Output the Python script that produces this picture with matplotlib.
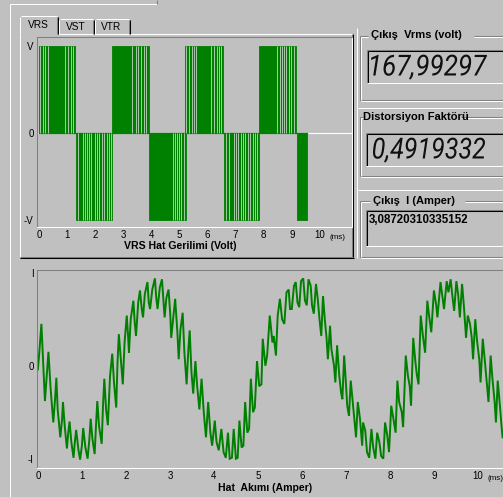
import matplotlib
matplotlib.use("Agg")
import matplotlib.pyplot as plt
from matplotlib.font_manager import FontProperties
from matplotlib.patches import PathPatch
from matplotlib.textpath import TextPath
from matplotlib.transforms import Affine2D

W, H = 503, 497
BG = "#c0c0c0"
GREEN = "#008000"
GRAY = "#808080"
WHITE = "#ffffff"
BLACK = "#000000"

plt.rcParams["font.family"] = ["Liberation Sans", "DejaVu Sans"]

# VRS line voltage: pulse blocks (start ms, end ms, level) and the short off-gaps inside each block
vrs_blocks = [(0.00, 1.29, 1), (1.32, 2.60, -1), (2.60, 3.91, 1), (3.93, 5.22, -1),
              (5.20, 6.55, 1), (6.58, 7.82, -1), (7.82, 9.16, 1), (9.19, 9.53, -1)]
vrs_gaps = [
    [0.05, 0.14, 0.21, 0.33, 0.93, 1.03, 1.13, 1.22],
    [1.39, 1.57, 1.63, 1.71, 1.79, 1.86, 1.98, 2.06, 2.15, 2.24, 2.31, 2.41, 2.49, 2.55],
    [3.30, 3.44, 3.52, 3.64, 3.74, 3.82],
    [4.77, 4.85, 4.92, 5.00, 5.07, 5.16],
    [5.24, 5.34, 5.43, 5.52, 5.58, 6.13, 6.23, 6.32, 6.42, 6.49],
    [6.66, 6.76, 6.93, 7.01, 7.08, 7.18, 7.26, 7.34, 7.44, 7.52, 7.60, 7.70, 7.77],
    [8.48, 8.56, 8.65, 8.73, 8.80, 8.89, 8.98, 9.07],
    [],
]
vrs_end = 9.53

# line current (ms, per unit of I)
i_time = [0.00, 0.03, 0.08, 0.12, 0.16, 0.20, 0.24, 0.29, 0.35, 0.39,
          0.42, 0.45, 0.51, 0.55, 0.57, 0.61, 0.66, 0.69, 0.72, 0.76,
          0.81, 0.84, 0.87, 0.92, 0.96, 1.00, 1.03, 1.08, 1.13, 1.17,
          1.20, 1.24, 1.29, 1.32, 1.35, 1.39, 1.45, 1.48, 1.51, 1.55,
          1.59, 1.64, 1.69, 1.73, 1.78, 1.81, 1.84, 1.89, 1.93, 1.97,
          2.02, 2.05, 2.07, 2.11, 2.17, 2.20, 2.23, 2.28, 2.32, 2.36,
          2.39, 2.43, 2.49, 2.52, 2.55, 2.60, 2.66, 2.69, 2.72, 2.77,
          2.82, 2.85, 2.88, 2.92, 2.97, 3.01, 3.03, 3.08, 3.12, 3.17,
          3.20, 3.24, 3.29, 3.33, 3.38, 3.42, 3.45,
          3.49, 3.53, 3.58, 3.62, 3.67, 3.72, 3.77, 3.82, 3.87, 3.92,
          3.96, 4.02, 4.06, 4.11, 4.17, 4.22, 4.27, 4.32, 4.36, 4.41,
          4.45, 4.50, 4.54, 4.58, 4.63, 4.67, 4.71, 4.76, 4.80, 4.84,
          4.89, 4.93, 4.98, 5.03, 5.08, 5.11, 5.17, 5.21, 5.27, 5.33,
          5.36, 5.41, 5.45, 5.50, 5.55, 5.60, 5.65, 5.70, 5.73, 5.77,
          5.82, 5.86, 5.90, 5.94, 5.98, 6.03, 6.07, 6.11, 6.15, 6.20,
          6.23, 6.27, 6.32, 6.36, 6.40, 6.44, 6.48, 6.52, 6.56, 6.59,
          6.64, 6.67, 6.73, 6.76, 6.80, 6.85, 6.89, 6.92, 6.96,
          6.99, 7.03, 7.07, 7.11, 7.15, 7.20, 7.23, 7.27, 7.32, 7.37,
          7.39, 7.44, 7.48, 7.53, 7.58, 7.62, 7.67, 7.71, 7.76, 7.80,
          7.85, 7.89, 7.94, 7.98, 8.03, 8.08, 8.13, 8.17, 8.21, 8.27,
          8.30, 8.36, 8.41, 8.45, 8.48, 8.53, 8.58, 8.61, 8.65, 8.70,
          8.75, 8.80, 8.85, 8.89, 8.94, 9.00, 9.05, 9.08, 9.15, 9.20,
          9.23, 9.29, 9.33, 9.38, 9.42, 9.46, 9.51, 9.55, 9.59, 9.64,
          9.68, 9.73, 9.77, 9.82, 9.86, 9.89, 9.94, 9.98, 10.03, 10.06,
          10.11, 10.16, 10.20, 10.24, 10.29, 10.33, 10.38, 10.41, 10.45, 10.50,
          10.53, 10.56]
i_value = [-0.04, 0.13, 0.45, 0.04, -0.38, -0.11, 0.15, -0.25, -0.61, -0.36,
           -0.13, -0.47, -0.77, -0.57, -0.39, -0.65, -0.89, -0.72, -0.60, -0.82,
           -0.99, -0.82, -0.69, -0.90, -1.01, -0.86, -0.67, -0.88, -1.00, -0.79,
           -0.57, -0.79, -0.95, -0.65, -0.38, -0.65, -0.84, -0.43, -0.14, -0.47,
           -0.64, -0.11, 0.13, -0.18, -0.45, 0.04, 0.34, 0.04, -0.20, 0.25,
           0.54, 0.32, 0.14, 0.50, 0.70, 0.47, 0.32, 0.68, 0.81, 0.61,
           0.52, 0.77, 0.90, 0.68, 0.61, 0.82, 0.94, 0.73, 0.61, 0.84,
           0.93, 0.72, 0.52, 0.73, 0.82, 0.54, 0.30, 0.54, 0.72, 0.36,
           0.07, 0.39, 0.57, 0.14, -0.20, 0.18, 0.38,
           -0.07, -0.30, 0.05, -0.22, -0.47, -0.14, -0.50, -0.77, -0.39, -0.72,
           -0.86, -0.59, -0.82, -0.91, -0.68, -0.93, -0.99, -0.72, -1.00, -0.99,
           -0.68, -1.00, -0.99, -0.59, -0.88, -0.86, -0.39, -0.72, -0.68, -0.14,
           -0.50, -0.45, 0.05, -0.22, -0.20, 0.29, 0.00, 0.11, 0.54, 0.25,
           0.32, 0.11, 0.54, 0.72, 0.50, 0.45, 0.79, 0.82, 0.61, 0.61,
           0.86, 0.90, 0.68, 0.63, 0.91, 0.94, 0.70, 0.65, 0.93, 0.86,
           0.65, 0.56, 0.88, 0.72, 0.50, 0.32, 0.75, 0.50, 0.30, 0.07,
           0.43, 0.18, 0.00, -0.18, 0.22, -0.11, -0.29, -0.36, 0.11,
           -0.11, -0.43, -0.54, -0.16, -0.36, -0.61, -0.77, -0.39, -0.57, -0.86,
           -0.61, -0.70, -0.93, -0.99, -0.68, -0.88, -1.00, -0.72, -0.82, -0.97,
           -1.00, -0.61, -0.75, -0.93, -0.43, -0.57, -0.72, -0.16, -0.39, -0.50,
           -0.66, 0.11, -0.11, -0.22, -0.43, 0.30, 0.04, -0.09, -0.20, 0.54,
           0.32, 0.14, 0.70, 0.54, 0.36, 0.81, 0.66, 0.52, 0.90, 0.72,
           0.61, 0.91, 0.79, 0.93, 0.75, 0.59, 0.91, 0.77, 0.52, 0.88,
           0.65, 0.30, 0.54, 0.45, 0.30, 0.07, 0.50, 0.27, 0.07, -0.18,
           0.29, 0.04, -0.18, -0.39, 0.11, -0.14, -0.39, -0.61, -0.16, -0.43,
           -0.61, -0.77]

time_ticks = list(range(11))
vrms_text = "167,99297"
distortion_text = "0,4919332"
current_text = "3,08720310335152"
tab_names = ["VRS", "VST", "VTR"]


def frac(x0, y0, x1, y1):
    return [x0 / W, 1 - y1 / H, (x1 - x0) / W, (y1 - y0) / H]


fig = plt.figure(figsize=(W / 100, H / 100), dpi=100, facecolor=BG)

# window chrome drawn in pixel coordinates
ui = fig.add_axes([0, 0, 1, 1])
ui.set_xlim(0, W)
ui.set_ylim(H, 0)
ui.axis("off")


def hl(x0, x1, y, c):
    ui.plot([x0, x1], [y, y], color=c, lw=0.75, solid_capstyle="butt")


def vl(x, y0, y1, c):
    ui.plot([x, x], [y0, y1], color=c, lw=0.75, solid_capstyle="butt")


def sunken(x0, y0, x1, y1):
    hl(x0, x1, y0, GRAY)
    vl(x0, y0, y1, GRAY)
    hl(x0 + 1, x1, y0 + 1, BLACK)
    vl(x0 + 1, y0 + 1, y1, BLACK)
    hl(x0, x1, y1, WHITE)
    vl(x1, y0, y1, WHITE)


def group(x0, y0, x1, y1, g0, g1):
    for d, c in ((0, GRAY), (1, WHITE)):
        hl(x0 + d, g0, y0 + d, c)
        hl(g1, x1, y0 + d, c)
        vl(x0 + d, y0 + d, y1, c)
        hl(x0 + d, x1, y1 + d, c)


def lcd(x, baseline, s, width, size=29):
    # italic read-out digits, squeezed to the box width
    tp = TextPath((0, 0), s, size=size,
                  prop=FontProperties(family=["Roboto", "Liberation Sans"],
                                      weight="normal", style="italic"))
    ext = tp.get_extents()
    sx = width / ext.width
    tr = Affine2D().translate(-ext.x0, 0).scale(sx, -1).translate(x, baseline)
    ui.add_patch(PathPatch(tp, transform=tr + ui.transData, facecolor="#101010", lw=0))


# outer frame of the left side and the tab page
hl(10.5, 157, 3.5, WHITE)
vl(157.5, 0, 4, GRAY)
vl(10.5, 3.5, H, WHITE)
hl(59, 353, 33.5, WHITE)
vl(20.5, 33.5, 257, WHITE)
vl(352.5, 33.5, 257, GRAY)
vl(353.5, 33.5, 258, BLACK)
hl(20.5, 353, 256.5, GRAY)
hl(20.5, 354, 257.5, BLACK)

# tabs
tab_x = [(20.5, 58.5, 15.5), (59.5, 94, 18.5), (95, 130, 18.5)]
for (x0, x1, y0), name in zip(tab_x, tab_names):
    hl(x0 + 1, x1 - 1, y0, WHITE)
    vl(x0, y0 + 1, 33.5, WHITE)
    vl(x1, y0 + 1, 33.5, BLACK)
    vl(x1 - 1, y0 + 1, 33.5, GRAY)
    ui.text((x0 + x1) / 2 - 1, y0 + 9, name, fontsize=7.3, ha="center", va="center")

# right-hand read-outs
vl(357.5, 28, 258, WHITE)
group(360.5, 35.5, 520, 99.5, 368, 474)
ui.text(371, 35.5, "Çıkış  Vrms (volt)", fontsize=8, weight="bold", va="center")
sunken(367.5, 49.5, 520, 82.5)
lcd(371, 75.5, vrms_text, 116)

hl(358, W, 107.5, WHITE)
group(360.5, 116.5, 520, 175.5, 363, 461)
ui.text(363.5, 116.5, "Distorsiyon Faktörü", fontsize=8, weight="bold", va="center")
sunken(366.5, 132.5, 520, 165.5)
lcd(373, 158.5, distortion_text, 112)

hl(358, W, 189.5, WHITE)
group(360.5, 200.5, 520, 256.5, 370, 465)
ui.text(373, 200.5, "Çıkış  I (Amper)", fontsize=8, weight="bold", va="center")
sunken(366.5, 209.5, 520, 245.5)
ui.text(368.5, 220, current_text, fontsize=8.3, weight="bold", va="center")

ui.text(180, 246, "VRS Hat Gerilimi (Volt)", fontsize=7.6, weight="bold", ha="center", va="center")
ui.text(265, 488, "Hat  Akımı (Amper)", fontsize=7.6, weight="bold", ha="center", va="center")


def style_axes(ax, ylabels):
    ax.set_facecolor(BG)
    ax.spines["top"].set_color(GRAY)
    ax.spines["left"].set_color(GRAY)
    ax.spines["bottom"].set_color(WHITE)
    ax.spines["right"].set_color(WHITE)
    for s in ax.spines.values():
        s.set_linewidth(0.75)
    ax.set_xticks(time_ticks)
    ax.set_xticklabels([str(t) for t in time_ticks])
    ax.set_yticks([1, 0, -1])
    ax.set_yticklabels(ylabels)
    ax.tick_params(length=0, labelsize=7, pad=2.5, colors=BLACK)
    ax.annotate("(ms)", xy=(10, 0), xycoords=("data", "axes fraction"),
                xytext=(7, -7.5), textcoords="offset points", fontsize=5.8, va="center")


# VRS pulse train
ax1 = fig.add_axes(frac(37, 37, 352, 227))
style_axes(ax1, ["V", "0", "-V"])
ax1.set_xlim(-0.07, 11.14)
ax1.set_ylim(-1.08, 1.10)
ax1.axhline(0, color=WHITE, lw=0.8, zorder=1)
ax1.plot([0, vrs_end], [0, 0], color=GREEN, lw=0.9, zorder=2)
for (start, end, level), gaps in zip(vrs_blocks, vrs_gaps):
    ax1.fill_between([start, end], 0, level, color=GREEN, lw=0.6, edgecolor=GREEN, zorder=2)
    if gaps:
        ax1.vlines(gaps, 0, level * 0.995, colors="#a9c9a9", lw=0.7, zorder=3)

# line current
ax2 = fig.add_axes(frac(37, 270, 503, 468))
style_axes(ax2, ["I", "0", "-I"])
ax2.spines["right"].set_visible(False)
ax2.set_xlim(-0.02, 10.57)
ax2.set_ylim(-1.10, 1.03)
ax2.plot(i_time, i_value, color=GREEN, lw=1.4, solid_joinstyle="miter")

fig.savefig("out.png", dpi=100, facecolor=BG)
